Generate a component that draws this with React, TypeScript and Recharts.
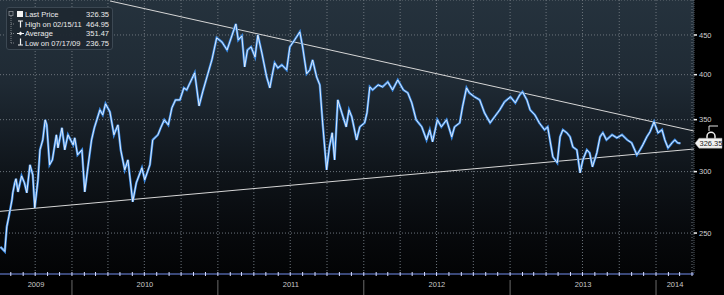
import React from "react";
import {
  CartesianGrid,
  Line,
  LineChart,
  ReferenceLine,
  XAxis,
  YAxis,
} from "recharts";

const PRICE_DATES = [
  "2009-07-06", "2009-07-17", "2009-07-22", "2009-07-27", "2009-08-04", "2009-08-06",
  "2009-08-11", "2009-08-14", "2009-08-19", "2009-08-28", "2009-09-04", "2009-09-10",
  "2009-09-18", "2009-09-25", "2009-09-30", "2009-10-08", "2009-10-13", "2009-10-20",
  "2009-10-26", "2009-10-30", "2009-11-06", "2009-11-13", "2009-11-23", "2009-11-27",
  "2009-12-07", "2009-12-14", "2009-12-22", "2010-01-04", "2010-01-08", "2010-01-15",
  "2010-01-26", "2010-02-02", "2010-02-10", "2010-02-19", "2010-02-26", "2010-03-12",
  "2010-03-19", "2010-03-26", "2010-04-06", "2010-04-16", "2010-04-26", "2010-05-03",
  "2010-05-13", "2010-05-21", "2010-06-02", "2010-06-11", "2010-06-25", "2010-07-02",
  "2010-07-15", "2010-07-22", "2010-08-04", "2010-08-11", "2010-08-20", "2010-08-30",
  "2010-09-08", "2010-09-17", "2010-09-28", "2010-10-08", "2010-10-15", "2010-10-22",
  "2010-11-04", "2010-11-15", "2010-11-24", "2010-12-07", "2010-12-17", "2010-12-29",
  "2011-01-11", "2011-01-24", "2011-02-15", "2011-02-21", "2011-03-02", "2011-03-09",
  "2011-03-16", "2011-03-25", "2011-04-04", "2011-04-11", "2011-04-21", "2011-05-03",
  "2011-05-11", "2011-05-16", "2011-05-23", "2011-05-31", "2011-06-10", "2011-06-22",
  "2011-06-30", "2011-07-12", "2011-07-25", "2011-08-01", "2011-08-11", "2011-08-19",
  "2011-08-26", "2011-09-05", "2011-09-13", "2011-09-20", "2011-09-30", "2011-10-07",
  "2011-10-14", "2011-10-20", "2011-10-28", "2011-11-07", "2011-11-18", "2011-11-25",
  "2011-12-02", "2011-12-14", "2011-12-22", "2012-01-03", "2012-01-09", "2012-01-16",
  "2012-01-23", "2012-02-06", "2012-02-17", "2012-03-01", "2012-03-13", "2012-03-26",
  "2012-04-09", "2012-04-20", "2012-04-30", "2012-05-11", "2012-05-25", "2012-06-06",
  "2012-06-14", "2012-06-21", "2012-07-03", "2012-07-13", "2012-07-26", "2012-08-08",
  "2012-08-15", "2012-08-28", "2012-09-04", "2012-09-14", "2012-09-21", "2012-10-04",
  "2012-10-17", "2012-10-29", "2012-11-12", "2012-11-23", "2012-12-06", "2012-12-18",
  "2013-01-02", "2013-01-14", "2013-01-25", "2013-02-01", "2013-02-12", "2013-02-20",
  "2013-03-04", "2013-03-15", "2013-03-28", "2013-04-05", "2013-04-18", "2013-04-29",
  "2013-05-06", "2013-05-13", "2013-05-23", "2013-05-31", "2013-06-07", "2013-06-17",
  "2013-06-25", "2013-07-02", "2013-07-12", "2013-07-19", "2013-07-26", "2013-08-06",
  "2013-08-14", "2013-08-21", "2013-08-30", "2013-09-13", "2013-09-25", "2013-10-08",
  "2013-10-21", "2013-11-01", "2013-11-14", "2013-11-22", "2013-11-29", "2013-12-09",
  "2013-12-17", "2013-12-27", "2014-01-06", "2014-01-16", "2014-01-23", "2014-01-31",
  "2014-02-10", "2014-02-17", "2014-02-24", "2014-03-03",
];

const PRICE_VALUES = [
  240.0, 236.75, 254.7, 262.3, 275.9, 281.7,
  290.2, 293.7, 282.5, 296.2, 290.2, 281.7,
  306.1, 297.1, 269.4, 292.8, 320.0, 329.6,
  349.8, 344.6, 306.1, 310.6, 334.6, 321.9,
  341.6, 320.0, 334.6, 324.8, 331.6, 315.3,
  320.0, 282.5, 304.3, 329.6, 341.6, 360.3,
  355.0, 366.8, 358.2, 334.6, 344.6, 320.0,
  301.6, 310.6, 274.3, 290.2, 303.4, 292.8,
  306.1, 329.6, 334.6, 341.6, 349.8, 344.6,
  362.5, 371.1, 371.1, 384.6, 382.3, 389.2,
  402.1, 364.6, 380.1, 401.1, 417.9, 446.1,
  440.8, 430.4, 464.95, 443.4, 448.7, 409.3,
  430.4, 434.3, 421.6, 450.0, 426.6, 397.3,
  384.6, 397.3, 414.2, 408.1, 411.7, 405.7,
  434.3, 443.4, 454.1, 434.3, 401.1, 405.7,
  417.9, 397.3, 388.0, 346.7, 301.6, 322.8,
  336.6, 310.6, 371.1, 357.1, 342.6, 360.3,
  352.9, 329.6, 342.6, 346.7, 357.1, 385.7,
  382.3, 388.0, 385.7, 391.5, 382.3, 393.8,
  382.3, 379.0, 367.9, 349.8, 342.6, 329.6,
  339.6, 327.7, 349.8, 342.6, 349.8, 332.6,
  342.6, 346.7, 363.6, 384.6, 379.0, 374.5,
  371.1, 357.1, 346.7, 352.9, 360.3, 369.0,
  374.5, 367.9, 376.7, 380.1, 371.1, 360.3,
  355.0, 346.7, 339.6, 342.6, 313.4, 307.9,
  332.6, 339.6, 336.6, 332.6, 322.8, 320.0,
  298.9, 310.6, 320.0, 317.2, 304.3, 317.2,
  332.6, 336.6, 329.6, 334.6, 331.6, 334.6,
  329.6, 326.7, 315.3, 320.0, 324.8, 332.6,
  337.6, 347.7, 336.6, 339.6, 329.6, 321.9,
  326.7, 329.6, 326.7, 326.35,
];

// trend lines (two end points each)
const UPPER_DATES = ["2010-04-06", "2014-04-06"];
const UPPER_VALUES = [497.8, 338.4];
const LOWER_DATES = ["2009-07-01", "2014-04-06"];
const LOWER_VALUES = [266.5, 320.8];

const X_START = "2009-07-05";
const X_END = "2014-04-06";
const Y_DOMAIN = [221.4, 499.2];
const Y_TICKS = [250, 300, 350, 400, 450];
const YEARS = [2009, 2010, 2011, 2012, 2013, 2014];
const LAST_PRICE = 326.35;

const LEGEND_ROWS = [
  { label: "Last Price", value: "326.35" },
  { label: "High on 02/15/11", value: "464.95" },
  { label: "Average", value: "351.47" },
  { label: "Low on 07/17/09", value: "236.75" },
];

const FONT = "'Liberation Sans', Arial, sans-serif";

const toT = (s: string) => Date.parse(s + "T00:00:00Z");
const xStart = toT(X_START);
const xEnd = toT(X_END);

const rows: { t: number; price?: number; upper?: number; lower?: number }[] = [
  ...PRICE_DATES.map((d, i) => ({ t: toT(d), price: PRICE_VALUES[i] })),
  ...UPPER_DATES.map((d, i) => ({ t: toT(d), upper: UPPER_VALUES[i] })),
  ...LOWER_DATES.map((d, i) => ({ t: toT(d), lower: LOWER_VALUES[i] })),
].sort((a, b) => a.t - b.t);

const monthTicks: number[] = [];
const quarterTicks: number[] = [];
for (let y = 2009; y <= 2014; y++) {
  for (let m = 0; m < 12; m++) {
    const t = Date.UTC(y, m, 1);
    if (t <= xStart || t > xEnd) continue;
    monthTicks.push(t);
    if (m % 3 === 0) quarterTicks.push(t);
  }
}

const yearMids = YEARS.map((y) => {
  const a = Math.max(Date.UTC(y, 0, 1), xStart);
  const b = Math.min(Date.UTC(y + 1, 0, 1), xEnd);
  return { year: y, t: (a + b) / 2 };
});

const MonthTick = (props: any) => {
  const { x, y, payload } = props;
  const isJan = new Date(payload.value).getUTCMonth() === 0;
  return (
    <g>
      <line x1={x} x2={x} y1={y - 2} y2={y + 2} stroke="#d8deff" strokeWidth={1} />
      {isJan && (
        <line x1={x} x2={x} y1={y + 6} y2={y + 21} stroke="#6a6a6a" strokeWidth={1} />
      )}
    </g>
  );
};

const PriceTag = (props: any) => {
  const { viewBox } = props;
  const x = viewBox.x + viewBox.width + 1;
  const y = viewBox.y;
  return (
    <g>
      <path d={`M ${x + 14} 131 V 126 H ${x + 23}`} stroke="#e0e0e0" fill="none" strokeWidth={1} />
      <path
        d={`M ${x + 12} ${y - 4} V ${y - 7} A 4 4 0 0 1 ${x + 20} ${y - 7} V ${y - 4}`}
        stroke="#f0f0f0"
        fill="none"
        strokeWidth={1.5}
      />
      <path
        d={`M ${x} ${y} L ${x + 4} ${y - 5} H ${x + 27} V ${y + 5} H ${x + 4} Z`}
        fill="#f2f2f2"
        stroke="#9a9a9a"
        strokeWidth={0.5}
      />
      <text
        x={x + 16}
        y={y + 3}
        textAnchor="middle"
        fontSize={7.5}
        fill="#222"
        fontFamily={FONT}
      >
        {LAST_PRICE.toFixed(2)}
      </text>
    </g>
  );
};

const LegendBox = () => (
  <div
    style={{
      position: "absolute",
      left: 6,
      top: 7,
      width: 107,
      height: 43,
      background: "rgba(30,40,49,0.96)",
      border: "1px solid #3c4853",
      borderRadius: 3,
      boxSizing: "border-box",
      fontFamily: FONT,
      fontSize: 7.5,
      color: "#ececec",
    }}
  >
    <svg width={20} height={43} style={{ position: "absolute", left: 0, top: 0 }}>
      <rect x={2} y={3.5} width={4} height={4} fill="none" stroke="#8a9096" strokeWidth={0.8} />
      <line x1={4} x2={4} y1={8} y2={35} stroke="#7a8086" strokeDasharray="1 1" />
      {[16, 25.5, 35].map((cy) => (
        <line key={cy} x1={4} x2={8} y1={cy} y2={cy} stroke="#7a8086" strokeDasharray="1 1" />
      ))}
      <rect x={10} y={3} width={6} height={6} fill="#f4f4f4" />
      <path d="M 11 13 H 16 M 13.5 13 V 19.5" stroke="#f4f4f4" strokeWidth={1.2} />
      <path d="M 10 25.5 H 17" stroke="#f4f4f4" strokeWidth={1} />
      <path d="M 13.5 23.5 L 15.5 25.5 L 13.5 27.5 L 11.5 25.5 Z" fill="#f4f4f4" />
      <path d="M 13.5 30.5 V 37 M 11 37 H 16" stroke="#f4f4f4" strokeWidth={1.2} />
    </svg>
    {LEGEND_ROWS.map((r, i) => (
      <div
        key={r.label}
        style={{
          position: "absolute",
          left: 18,
          right: 3,
          top: 2 + i * 9.6,
          lineHeight: "9px",
          height: 9,
          whiteSpace: "nowrap",
        }}
      >
        <span>{r.label}</span>
        <span style={{ position: "absolute", right: 0 }}>{r.value}</span>
      </div>
    ))}
  </div>
);

export default function App() {
  return (
    <div
      style={{
        position: "absolute",
        left: 0,
        top: 0,
        width: 724,
        height: 295,
        background: "#000",
        overflow: "hidden",
      }}
    >
      <div
        style={{
          position: "absolute",
          left: 0,
          top: 0,
          width: 694,
          height: 274,
          background:
            "linear-gradient(180deg, #25323d 0%, #1f2a34 30%, #161e26 48%, #0e1318 65%, #07090c 85%, #030405 100%)",
        }}
      />
      <div style={{ position: "absolute", left: 0, top: 0 }}>
        <LineChart
          width={724}
          height={295}
          data={rows}
          margin={{ top: 0, right: 0, bottom: 0, left: 0 }}
          style={{ fontFamily: FONT }}
        >
          <CartesianGrid
            vertical={false}
            stroke="#6c747c"
            strokeDasharray="1 2"
          />
          {quarterTicks.map((t) => (
            <ReferenceLine
              key={t}
              x={t}
              stroke="#6c747c"
              strokeDasharray="1 2"
            />
          ))}
          {yearMids.map((m) => (
            <ReferenceLine
              key={m.year}
              x={m.t}
              stroke="none"
              label={{
                value: String(m.year),
                position: "bottom",
                offset: 8,
                fill: "#c9c9c9",
                fontSize: 7.5,
              }}
            />
          ))}
          <XAxis
            dataKey="t"
            type="number"
            domain={[xStart, xEnd]}
            allowDataOverflow
            ticks={monthTicks}
            interval={0}
            tick={<MonthTick />}
            tickLine={false}
            tickSize={0}
            tickMargin={0}
            height={21}
            axisLine={{ stroke: "#3a4878", strokeWidth: 2 }}
          />
          <YAxis
            orientation="right"
            scale="log"
            domain={Y_DOMAIN}
            allowDataOverflow
            ticks={Y_TICKS}
            interval={0}
            width={30}
            tickSize={3}
            tickMargin={2}
            tickLine={{ stroke: "#f0f0f0", strokeWidth: 1.5 }}
            axisLine={{ stroke: "#505860", strokeDasharray: "1 1" }}
            tick={{ fill: "#cfcfcf", fontSize: 7.5 }}
          />
          <Line
            dataKey="lower"
            stroke="#d6d6d6"
            strokeWidth={1}
            dot={false}
            activeDot={false}
            connectNulls
            isAnimationActive={false}
          />
          <Line
            dataKey="upper"
            stroke="#d6d6d6"
            strokeWidth={1}
            dot={false}
            activeDot={false}
            connectNulls
            isAnimationActive={false}
          />
          <Line
            dataKey="price"
            stroke="#3b8ae3"
            strokeWidth={2.4}
            dot={false}
            activeDot={false}
            connectNulls
            isAnimationActive={false}
          />
          <Line
            dataKey="price"
            stroke="#eef4fc"
            strokeWidth={0.9}
            dot={false}
            activeDot={false}
            connectNulls
            isAnimationActive={false}
          />
          <ReferenceLine y={LAST_PRICE} stroke="none" label={<PriceTag />} />
        </LineChart>
      </div>
      <LegendBox />
    </div>
  );
}
